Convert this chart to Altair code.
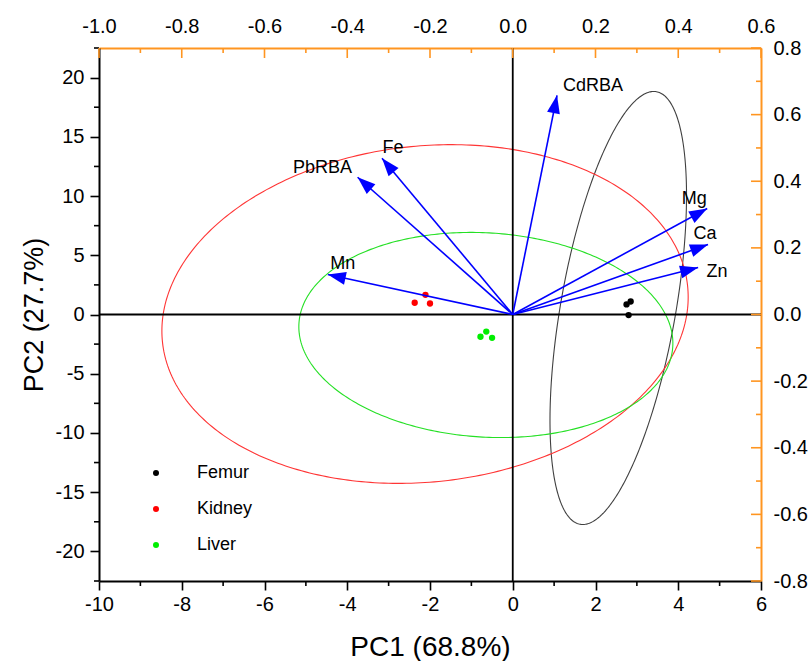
import math
import numpy as np
import pandas as pd
import altair as alt

# ---------------- data ----------------
score_group = ["Femur", "Femur", "Femur", "Kidney", "Kidney", "Kidney", "Liver", "Liver", "Liver"]
score_pc1 = [2.75, 2.85, 2.80, -2.11, -2.37, -2.00, -0.64, -0.78, -0.50]
score_pc2 = [0.85, 1.10, -0.05, 1.66, 0.99, 0.93, -1.44, -1.88, -1.97]

groups = ["Femur", "Kidney", "Liver"]
group_colors = ["#000000", "#FF0000", "#00EE00"]

# confidence ellipses: centre, half-width (PC1), half-height (PC2), tilt correlation
ell_cx = [2.55, -2.12, -0.65]
ell_cy = [0.55, 0.04, -1.73]
ell_w = [1.65, 6.36, 4.52]
ell_h = [18.28, 14.30, 8.66]
ell_r = [0.52, 0.10, -0.08]
ellipse_colors = ["#404040", "#FF3535", "#25E025"]

variables = ["Mn", "Fe", "PbRBA", "CdRBA", "Mg", "Ca", "Zn"]
load_pc1 = [-0.447, -0.316, -0.375, 0.107, 0.470, 0.472, 0.448]
load_pc2 = [0.120, 0.469, 0.412, 0.658, 0.318, 0.210, 0.141]

bottom_ticks = [-10, -8, -6, -4, -2, 0, 2, 4, 6]
bottom_minor = [-9, -7, -5, -3, -1, 1, 3, 5]
left_ticks = [-20, -15, -10, -5, 0, 5, 10, 15, 20]
left_minor = [-22.5, -17.5, -12.5, -7.5, -2.5, 2.5, 7.5, 12.5, 17.5, 22.5]
top_ticks = [-1.0, -0.8, -0.6, -0.4, -0.2, 0.0, 0.2, 0.4, 0.6]
top_minor = [-0.9, -0.7, -0.5, -0.3, -0.1, 0.1, 0.3, 0.5]
right_ticks = [-0.8, -0.6, -0.4, -0.2, 0.0, 0.2, 0.4, 0.6, 0.8]
right_minor = [-0.7, -0.5, -0.3, -0.1, 0.1, 0.3, 0.5, 0.7]

# ---------------- style ----------------
W, H = 662, 533
ORANGE = "#FF9520"
BLUE = "#0000FF"
FONT = "Liberation Sans"
NARROW = "'Liberation Sans Narrow', 'Liberation Sans'"
label_dx = [15, 11, -35, 36, -13, -3, 19]
label_dy = [-11, -10, -9, -9, -10, -11, 4]

SX = alt.Scale(domain=[-10, 6], nice=False, zero=False)
SY = alt.Scale(domain=[-22.5, 22.5], nice=False, zero=False)
LX = alt.Scale(domain=[-1.0, 0.6], nice=False, zero=False)
LY = alt.Scale(domain=[-0.8, 0.8], nice=False, zero=False)

AX_B = alt.Axis(orient="bottom", values=bottom_ticks, format="d", title="PC1 (68.8%)",
                grid=False, domainColor="black", domainWidth=2, tickColor="black",
                tickWidth=1.6, tickSize=9, labelFontSize=20, labelFont=NARROW,
                labelColor="black", labelPadding=4, labelFlush=False, labelOverlap=False,
                titleFont=NARROW, titleFontSize=28, titleFontWeight="normal",
                titleColor="black", titlePadding=19)
AX_L = alt.Axis(orient="left", values=left_ticks, format="d", title="PC2 (27.7%)",
                grid=False, domainColor="black", domainWidth=2, tickColor="black",
                tickWidth=1.6, tickSize=9, labelFontSize=20, labelFont=FONT,
                labelColor="black", labelPadding=6, labelFlush=False, labelOverlap=False,
                titleFont=FONT, titleFontSize=27, titleFontWeight="normal",
                titleColor="black", titlePadding=7)
AX_T = alt.Axis(orient="top", values=top_ticks, format=".1f", title=None, grid=False,
                ticks=False, domainColor=ORANGE, domainWidth=2, labelFontSize=20,
                labelFont=NARROW, labelColor="black", labelPadding=12,
                labelFlush=False, labelOverlap=False)
AX_R = alt.Axis(orient="right", values=right_ticks, format=".1f", title=None, grid=False,
                ticks=False, domainColor=ORANGE, domainWidth=2, labelFontSize=20,
                labelFont=FONT, labelColor="black", labelPadding=12,
                labelFlush=False, labelOverlap=False)


def sx(f):
    return alt.X(f"{f}:Q", scale=SX, axis=AX_B)


def sy(f):
    return alt.Y(f"{f}:Q", scale=SY, axis=AX_L)


def lx(f):
    return alt.X(f"{f}:Q", scale=LX, axis=AX_T)


def ly(f):
    return alt.Y(f"{f}:Q", scale=LY, axis=AX_R)


# ---------------- score layers ----------------
scores = pd.DataFrame({"g": score_group, "x": score_pc1, "y": score_pc2})

t = np.linspace(0, 2 * np.pi, 361)
ell_layers = []
for i, g in enumerate(groups):
    r = ell_r[i]
    ex = ell_cx[i] + ell_w[i] * np.cos(t)
    ey = ell_cy[i] + ell_h[i] * (r * np.cos(t) + math.sqrt(1 - r * r) * np.sin(t))
    edf = pd.DataFrame({"x": ex, "y": ey, "k": np.arange(len(t))})
    ell_layers.append(
        alt.Chart(edf).mark_line(color=ellipse_colors[i], strokeWidth=1.1)
        .encode(x=sx("x"), y=sy("y"), order="k:Q")
    )

zero_v = alt.Chart(pd.DataFrame({"x": [0]})).mark_rule(color="black", strokeWidth=1.8).encode(x=sx("x"))
zero_h = alt.Chart(pd.DataFrame({"y": [0]})).mark_rule(color="black", strokeWidth=1.8).encode(y=sy("y"))

b_minor = alt.Chart(pd.DataFrame({"x": bottom_minor})).mark_rule(color="black", strokeWidth=1.6).encode(
    x=sx("x"), y=alt.value(H), y2=alt.value(H + 5))
l_minor = alt.Chart(pd.DataFrame({"y": left_minor})).mark_rule(color="black", strokeWidth=1.6).encode(
    y=sy("y"), x=alt.value(-5), x2=alt.value(0))

points = alt.Chart(scores).mark_circle(size=40, opacity=1).encode(
    x=sx("x"), y=sy("y"),
    color=alt.Color("g:N", scale=alt.Scale(domain=groups, range=group_colors),
                    legend=alt.Legend(title=None, orient="none", legendX=48, legendY=416,
                                      symbolType="circle", symbolSize=36, symbolStrokeWidth=0,
                                      labelFontSize=18, labelFont=FONT, labelColor="black",
                                      rowPadding=18, labelOffset=32, padding=0)),
)

score_layer = alt.layer(*ell_layers, zero_v, zero_h, b_minor, l_minor, points)

# ---------------- loading layers ----------------
sxp = W / (LX.domain[1] - LX.domain[0])
syp = H / (LY.domain[1] - LY.domain[0])
angles = [math.degrees(math.atan2(a * sxp, b * syp)) % 360 for a, b in zip(load_pc1, load_pc2)]
loads = pd.DataFrame({"v": variables, "x": load_pc1, "y": load_pc2,
                      "x0": [0.0] * len(variables), "y0": [0.0] * len(variables), "ang": angles})

shafts = alt.Chart(loads).mark_rule(color=BLUE, strokeWidth=1.6).encode(
    x=lx("x0"), x2="x", y=ly("y0"), y2="y")
heads = alt.Chart(loads).mark_point(shape="M0,0L-0.65,1.8L0.65,1.8Z", size=400, filled=True,
                                    color=BLUE, opacity=1).encode(
    x=lx("x"), y=ly("y"), angle=alt.Angle("ang:Q", scale=None))

labels = []
for i, v in enumerate(variables):
    labels.append(
        alt.Chart(loads[loads.v == v]).mark_text(font=FONT, fontSize=18, color="black",
                                                 dx=label_dx[i], dy=label_dy[i])
        .encode(x=lx("x"), y=ly("y"), text="v:N")
    )

t_major = alt.Chart(pd.DataFrame({"x": top_ticks})).mark_rule(color=ORANGE, strokeWidth=1.6).encode(
    x=lx("x"), y=alt.value(0), y2=alt.value(10))
t_minor = alt.Chart(pd.DataFrame({"x": top_minor})).mark_rule(color=ORANGE, strokeWidth=1.6).encode(
    x=lx("x"), y=alt.value(0), y2=alt.value(5))
r_major = alt.Chart(pd.DataFrame({"y": right_ticks})).mark_rule(color=ORANGE, strokeWidth=1.6).encode(
    y=ly("y"), x=alt.value(W - 10), x2=alt.value(W))
r_minor = alt.Chart(pd.DataFrame({"y": right_minor})).mark_rule(color=ORANGE, strokeWidth=1.6).encode(
    y=ly("y"), x=alt.value(W - 5), x2=alt.value(W))

load_layer = alt.layer(shafts, heads, *labels, t_major, t_minor, r_major, r_minor)

chart = (
    alt.layer(score_layer, load_layer)
    .resolve_scale(x="independent", y="independent")
    .properties(width=W, height=H,
                padding={"left": 99, "top": 48, "right": 50, "bottom": 80},
                autosize=alt.AutoSizeParams(type="none"))
    .configure_view(stroke=None)
    .configure(locale={"number": {"decimal": ".", "thousands": ",", "grouping": [3],
                                  "currency": ["", ""], "minus": "-"}})
)

chart.save("out.html", embed_options={"renderer": "svg", "actions": False})
